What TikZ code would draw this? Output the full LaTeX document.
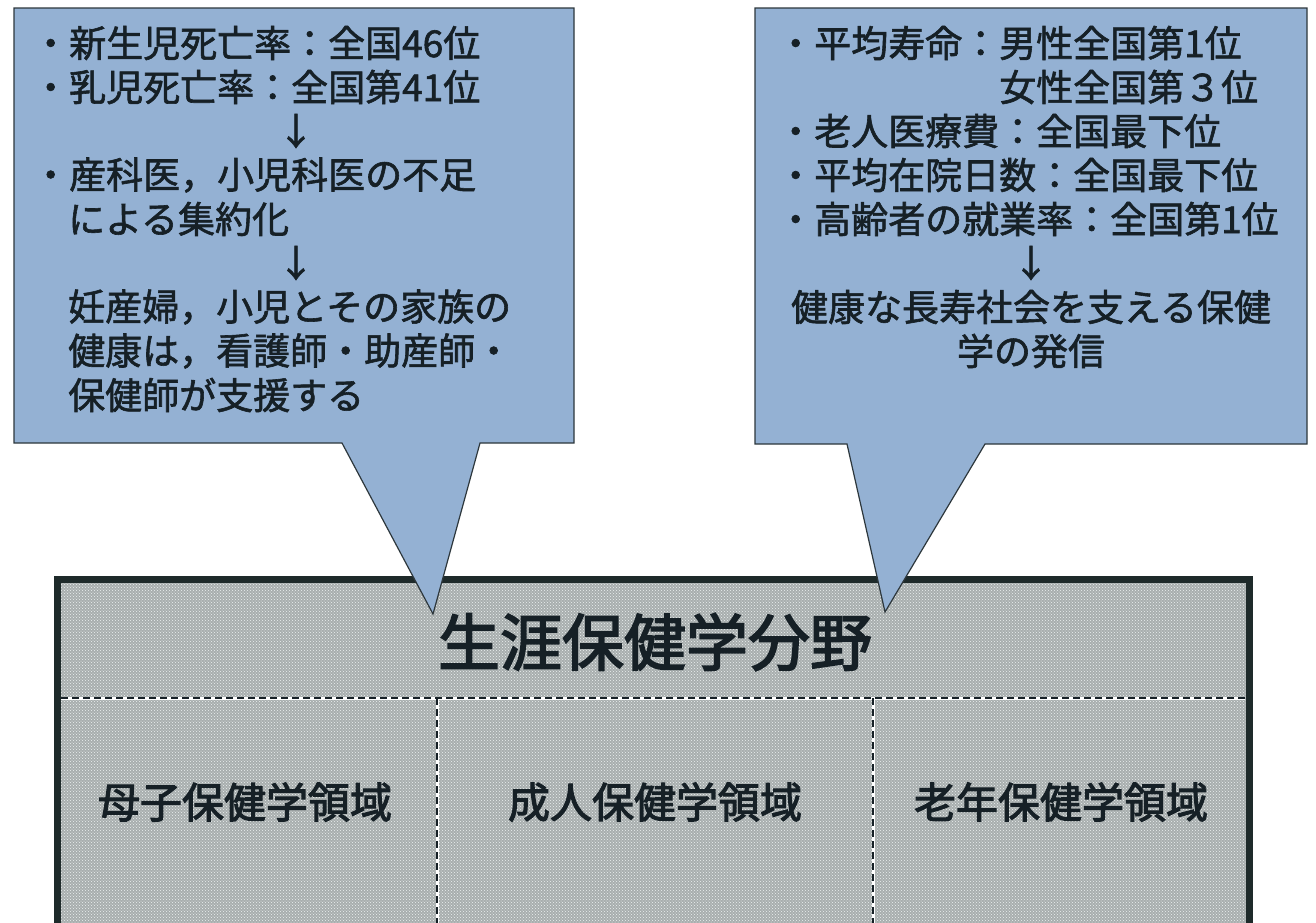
\documentclass[tikz,border=0pt]{standalone}
\usepackage{fontspec}
\newfontfamily\jp{Noto Sans CJK JP}[FakeBold=1.6]
\newfontfamily\jpbold{Noto Sans CJK JP}[FakeBold=2.6]
\usetikzlibrary{patterns}
\definecolor{callout}{RGB}{148,177,211}
\definecolor{ink}{RGB}{22,32,38}
\definecolor{edge}{RGB}{45,55,60}
\definecolor{boxgray}{RGB}{168,174,174}
\definecolor{dotlight}{RGB}{236,240,240}
\definecolor{frame}{RGB}{30,42,42}
\tikzset{
  ctext/.style={anchor=west, inner sep=0pt, text=ink, font=\jp\fontsize{37}{44}\selectfont},
  cmid/.style={anchor=center, inner sep=0pt, text=ink, font=\jp\fontsize{37}{44}\selectfont},
  titletext/.style={anchor=center, inner sep=0pt, text=ink, font=\jpbold\fontsize{62}{70}\selectfont},
  areatext/.style={anchor=center, inner sep=0pt, text=ink, font=\jpbold\fontsize{42}{50}\selectfont},
  calloutshape/.style={fill=callout, draw=edge, line width=1.2pt, line join=miter},
  divider/.style={draw=ink, line width=1.4pt, dash pattern=on 7pt off 4pt},
  dividerbg/.style={draw=white, line width=3pt}
}
\begin{document}
\begin{tikzpicture}[x=1pt,y=-1pt]
\useasboundingbox (0,0) rectangle (1316,922);
\clip (0,0) rectangle (1316,922);
\fill[white] (0,0) rectangle (1316,922);

% main field box
\path[fill=boxgray] (57,579) rectangle (1249,960);
\path[pattern=crosshatch dots, pattern color=dotlight] (57,579) rectangle (1249,960);
\draw[dividerbg] (61,698) -- (1245,698);
\draw[dividerbg] (437,698) -- (437,960);
\draw[dividerbg] (873,698) -- (873,960);
\draw[divider] (61,698) -- (1245,698);
\draw[divider] (437,698) -- (437,960);
\draw[divider] (873,698) -- (873,960);
\draw[draw=frame, line width=7pt] (57,579) rectangle (1249,960);

% callouts
\coordinate (ltip) at (433,614);
\coordinate (rtip) at (885,612);
\path[calloutshape] (14,8) -- (574,8) -- (574,443) -- (480,443) -- (ltip) -- (342,443) -- (14,443) -- cycle;
\path[calloutshape] (755,8) -- (1307,8) -- (1307,444) -- (985,444) -- (rtip) -- (847,444) -- (755,444) -- cycle;

% left callout text
\node[ctext] (l1) at (32,43) {・新生児死亡率：全国46位};
\node[ctext] (l2) at (32,87) {・乳児死亡率：全国第41位};
\node[cmid]  (l3) at (296,131) {↓};
\node[ctext] (l4) at (32,175) {・産科医，小児科医の不足};
\node[ctext] (l5) at (68,219) {による集約化};
\node[cmid]  (l6) at (296,263) {↓};
\node[ctext] (l7) at (68,307) {妊産婦，小児とその家族の};
\node[ctext] (l8) at (68,351) {健康は，看護師・助産師・};
\node[ctext] (l9) at (68,395) {保健師が支援する};

% right callout text
\node[ctext] (r1) at (777,43) {・平均寿命：男性全国第1位};
\node[ctext] (r2) at (777,87) {\phantom{・平均寿命：}女性全国第３位};
\node[ctext] (r3) at (777,131) {・老人医療費：全国最下位};
\node[ctext] (r4) at (777,175) {・平均在院日数：全国最下位};
\node[ctext] (r5) at (777,219) {・高齢者の就業率：全国第1位};
\node[cmid]  (r6) at (1031,263) {↓};
\node[cmid]  (r7) at (1031,307) {健康な長寿社会を支える保健};
\node[cmid]  (r8) at (1031,351) {学の発信};

% main box texts
\node[titletext] (title) at (655,642) {生涯保健学分野};
\node[areatext] (a1) at (245,802) {母子保健学領域};
\node[areatext] (a2) at (655,802) {成人保健学領域};
\node[areatext] (a3) at (1061,802) {老年保健学領域};
\end{tikzpicture}
\end{document}
